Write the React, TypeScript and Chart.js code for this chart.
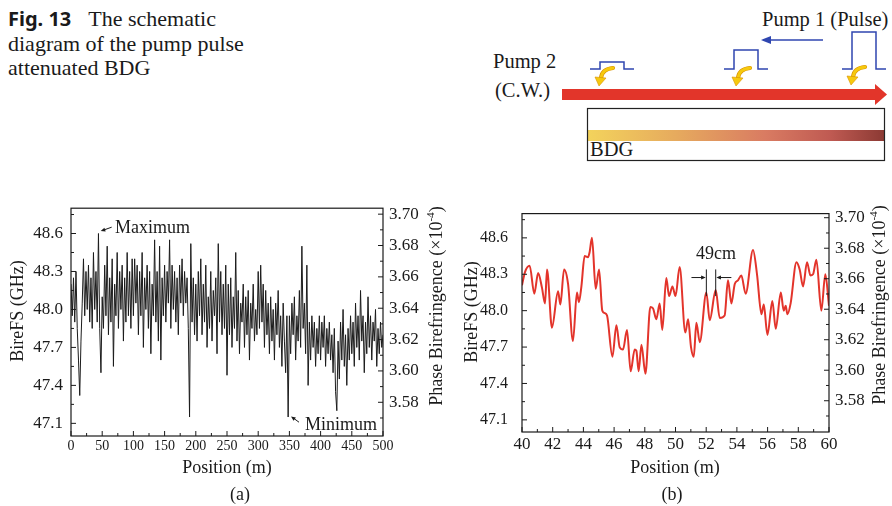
import React, { useEffect, useRef } from "react";
import { Chart, registerables } from "chart.js";

Chart.register(...registerables);

const FONT = "'Liberation Serif', 'Times New Roman', serif";
const INK = "#1a1a1a";

// ---------- (a) full fibre, BireFS sampled every 2 m ----------
const leftStep = 2;
const leftBireFS = [
  48.20, 47.95, 48.25, 47.90, 48.30, 47.85, 47.60, 47.32, 47.75, 48.05, 48.40, 47.95, 48.30, 48.00, 48.35, 47.90, 48.25, 47.85, 48.45, 48.00, 48.30, 47.90, 48.60, 47.85, 47.50,
  48.10, 47.85, 48.35, 47.95, 48.50, 47.80, 48.25, 47.90, 48.40, 47.55, 48.20, 47.95, 48.45, 47.85, 48.30, 48.00, 48.35, 47.75, 48.25, 47.90, 48.45, 47.95, 48.30, 47.85, 48.40,
  47.95, 48.40, 48.05, 48.35, 47.80, 48.30, 47.95, 48.45, 47.70, 48.25, 48.00, 48.35, 47.85, 48.30, 47.65, 48.20, 47.95, 48.55, 47.90, 48.30, 47.75, 48.50, 47.60, 48.25, 47.95,
  48.35, 47.90, 48.30, 48.05, 48.55, 47.85, 48.35, 48.00, 48.30, 47.90, 48.25, 47.80, 48.35, 48.05, 48.40, 47.95, 48.30, 48.05, 48.25, 47.85, 47.15, 48.52, 47.90, 48.25, 47.80,
  48.20, 47.75, 48.30, 47.95, 48.40, 47.80, 48.20, 47.90, 48.35, 47.70, 48.10, 47.85, 48.30, 47.75, 48.15, 47.95, 48.25, 47.65, 48.52, 47.90, 48.30, 47.80, 48.20, 47.85, 48.35,
  47.48, 48.20, 47.80, 48.25, 47.70, 48.10, 47.85, 48.45, 47.75, 48.15, 47.65, 48.05, 47.90, 48.20, 47.70, 48.10, 47.80, 48.15, 47.60, 48.05, 47.85, 48.20, 47.75, 48.00, 47.80,
  48.30, 47.85, 48.35, 47.90, 48.20, 47.70, 48.15, 47.80, 48.05, 47.65, 48.10, 47.75, 48.00, 47.60, 48.05, 47.80, 48.15, 47.70, 47.95, 47.55, 48.05, 47.75, 47.50, 47.95, 47.15,
  47.95, 47.65, 48.05, 47.80, 48.10, 47.60, 47.95, 47.75, 48.15, 47.70, 48.50, 47.85, 48.05, 47.65, 48.35, 47.40, 47.90, 47.60, 47.95, 47.70, 47.90, 47.55, 47.85, 47.65, 47.95,
  47.60, 47.90, 47.70, 47.95, 47.55, 47.85, 47.65, 47.90, 47.60, 47.80, 47.50, 47.85, 47.35, 47.20, 47.75, 47.45, 47.90, 47.60, 48.00, 47.55, 47.80, 47.40, 47.85, 47.60, 47.95,
  47.65, 47.90, 47.55, 48.05, 47.70, 47.95, 47.60, 48.15, 47.75, 47.95, 47.50, 47.90, 47.65, 48.10, 47.70, 47.95, 47.60, 47.90, 47.75, 48.00, 47.55, 47.85, 47.65, 47.90, 47.70, 47.80,
];
const leftPos = leftBireFS.map((_, i) => i * leftStep);

const leftXTicks = [0, 50, 100, 150, 200, 250, 300, 350, 400, 450, 500];
const leftXMinor = [25, 75, 125, 175, 225, 275, 325, 375, 425, 475];

// ---------- (b) zoom 40-60 m ----------
const rightPos = [
  40.0, 40.2, 40.5, 40.8, 41.05, 41.3, 41.5, 41.63, 41.95, 42.35, 42.5, 42.74, 43.0, 43.32, 43.58, 43.71, 43.87, 44.08, 44.3, 44.4,
  44.56, 44.8, 45.02, 45.23, 45.39, 45.54, 45.89, 46.15, 46.36, 46.58, 46.84, 47.08, 47.34, 47.45, 47.6, 47.78, 48.04, 48.36, 48.53, 48.75,
  48.97, 49.14, 49.4, 49.58, 49.8, 50.0, 50.27, 50.64, 50.82, 51.01, 51.19, 51.36, 51.58, 52.01, 52.23, 52.62, 52.88, 53.2, 53.42, 53.64,
  53.86, 54.07, 54.29, 54.57, 55.05, 55.31, 55.6, 55.75, 55.99, 56.31, 56.53, 56.86, 57.05, 57.18, 57.29, 57.5, 57.88, 58.09, 58.31, 58.57,
  58.79, 58.96, 59.18, 59.5, 59.76, 60.0,
];
const rightBireFS = [
  48.21, 48.32, 48.37, 48.14, 48.31, 48.19, 48.06, 48.34, 47.86, 48.16, 48.05, 48.34, 48.22, 47.75, 48.15, 48.07, 48.2, 48.45, 48.44, 48.48,
  48.60, 48.18, 48.34, 48.0, 47.98, 47.96, 47.62, 47.88, 47.7, 47.68, 47.84, 47.5, 47.68, 47.67, 47.5, 47.72, 47.48, 48.03, 48.02, 47.93,
  48.06, 47.84, 48.27, 48.12, 48.2, 48.12, 48.36, 47.82, 47.93, 47.7, 47.62, 47.9, 47.74, 48.15, 47.92, 48.17, 47.94, 47.96, 48.25, 48.06,
  48.22, 48.25, 48.29, 48.14, 48.5, 48.3, 47.97, 48.05, 47.8, 48.08, 47.85, 48.15, 48.0, 48.04, 47.97, 48.06, 48.4, 48.34, 48.2, 48.4,
  48.29, 48.3, 48.42, 48.0, 48.3, 48.04,
];
const rightXTicks = [40, 42, 44, 46, 48, 50, 52, 54, 56, 58, 60];
const rightXMinor = [41, 43, 45, 47, 49, 51, 53, 55, 57, 59];

// ---------- shared y axes ----------
const bireTicks = [47.1, 47.4, 47.7, 48.0, 48.3, 48.6];
const bireMinor = [47.25, 47.55, 47.85, 48.15, 48.45, 48.75];
const phaseTicks = [3.58, 3.6, 3.62, 3.64, 3.66, 3.68, 3.7];
const phaseMinor = [3.57, 3.59, 3.61, 3.63, 3.65, 3.67, 3.69];

// annotation anchors (data coordinates)
const maxLabel = { x: 70.5, y: 48.645 };
const maxArrow = [65.2, 48.65, 47.6, 48.619];
const minLabel = { x: 375, y: 47.085 };
const minArrow = [365.4, 47.109, 352.6, 47.155];
const spacingMarks = [52.01, 52.62];
const spacingLabel = { x: 52.64, y: 48.468 };

type Cfg = {
  xMajor: number[]; xMinor: number[];
  leftTitle: [number, number]; rightTitle: [number, number]; bottomTitle: [number, number];
  sub: [number, number, string];
  annotate: (chart: any, ctx: CanvasRenderingContext2D) => void;
};

function drawRotated(ctx: CanvasRenderingContext2D, cx: number, cy: number, parts: { t: string; sup?: boolean }[], size: number) {
  ctx.save();
  ctx.translate(cx, cy);
  ctx.rotate(-Math.PI / 2);
  ctx.textBaseline = "middle";
  ctx.textAlign = "left";
  const items = parts.map((p) => {
    const fs = p.sup ? size * 0.62 : size;
    ctx.font = `${fs}px ${FONT}`;
    return { ...p, fs, w: ctx.measureText(p.t).width };
  });
  const total = items.reduce((s, i) => s + i.w, 0);
  let x = -total / 2;
  for (const it of items) {
    ctx.font = `${it.fs}px ${FONT}`;
    ctx.fillText(it.t, x, it.sup ? -size * 0.32 : 0);
    x += it.w;
  }
  ctx.restore();
}

function arrow(ctx: CanvasRenderingContext2D, x1: number, y1: number, x2: number, y2: number, head = 5) {
  const a = Math.atan2(y2 - y1, x2 - x1);
  ctx.beginPath();
  ctx.moveTo(x1, y1);
  ctx.lineTo(x2 - Math.cos(a) * head * 0.8, y2 - Math.sin(a) * head * 0.8);
  ctx.stroke();
  ctx.beginPath();
  ctx.moveTo(x2, y2);
  ctx.lineTo(x2 - head * Math.cos(a - 0.4), y2 - head * Math.sin(a - 0.4));
  ctx.lineTo(x2 - head * Math.cos(a + 0.4), y2 - head * Math.sin(a + 0.4));
  ctx.closePath();
  ctx.fill();
}

function framePlugin(cfg: Cfg) {
  return {
    id: "frame",
    afterDraw(chart: any) {
      const { ctx, chartArea: a, scales } = chart;
      const x = scales.x, y = scales.y, y2 = scales.y2;
      ctx.save();
      ctx.strokeStyle = INK;
      ctx.fillStyle = INK;
      ctx.lineWidth = 1.2;
      ctx.strokeRect(a.left, a.top, a.right - a.left, a.bottom - a.top);
      ctx.lineWidth = 1;
      const tick = (x1: number, y1: number, x2: number, y2v: number) => {
        ctx.beginPath(); ctx.moveTo(x1, y1); ctx.lineTo(x2, y2v); ctx.stroke();
      };
      cfg.xMajor.forEach((v) => { const p = x.getPixelForValue(v); tick(p, a.bottom, p, a.bottom - 5); });
      cfg.xMinor.forEach((v) => { const p = x.getPixelForValue(v); tick(p, a.bottom, p, a.bottom - 3); });
      bireTicks.forEach((v) => { const p = y.getPixelForValue(v); tick(a.left, p, a.left + 5, p); });
      bireMinor.forEach((v) => { const p = y.getPixelForValue(v); tick(a.left, p, a.left + 3, p); });
      phaseTicks.forEach((v) => { const p = y2.getPixelForValue(v); tick(a.right, p, a.right - 5, p); });
      phaseMinor.forEach((v) => { const p = y2.getPixelForValue(v); tick(a.right, p, a.right - 3, p); });

      drawRotated(ctx, cfg.leftTitle[0], cfg.leftTitle[1], [{ t: "BireFS (GHz)" }], 18);
      drawRotated(ctx, cfg.rightTitle[0], cfg.rightTitle[1], [{ t: "Phase Birefringence (×10" }, { t: "-4", sup: true }, { t: ")" }], 18);
      ctx.font = `18px ${FONT}`;
      ctx.textAlign = "center";
      ctx.textBaseline = "middle";
      ctx.fillText("Position (m)", cfg.bottomTitle[0], cfg.bottomTitle[1]);
      ctx.fillText(cfg.sub[2], cfg.sub[0], cfg.sub[1]);
      cfg.annotate(chart, ctx);
      ctx.restore();
    },
  };
}

function scalesFor(xMin: number, xMax: number, xTicks: number[], xFont: number, chartLeft: number, chartBottomGap: number, yFont: number, yPad: number, y2Min: number, y2Max: number) {
  const tickFont = (size: number) => ({ family: FONT, size });
  return {
    x: {
      type: "linear", min: xMin, max: xMax,
      afterBuildTicks: (s: any) => { s.ticks = xTicks.map((v) => ({ value: v })); },
      afterFit: (s: any) => { s.height = chartBottomGap; },
      grid: { display: false, drawTicks: false },
      border: { display: false },
      ticks: { font: tickFont(xFont), color: INK, padding: 2, maxRotation: 0, autoSkip: false, callback: (v: any) => String(v) },
    },
    y: {
      position: "left", min: 47.0, max: 48.8,
      afterBuildTicks: (s: any) => { s.ticks = bireTicks.map((v) => ({ value: v })); },
      afterFit: (s: any) => { s.width = chartLeft; },
      grid: { display: false, drawTicks: false },
      border: { display: false },
      ticks: { font: tickFont(yFont), color: INK, padding: yPad, callback: (v: any) => Number(v).toFixed(1) },
    },
    y2: {
      position: "right", min: y2Min, max: y2Max,
      afterBuildTicks: (s: any) => { s.ticks = phaseTicks.map((v) => ({ value: v })); },
      afterFit: (s: any) => { s.width = 63; },
      grid: { display: false, drawTicks: false },
      border: { display: false },
      ticks: { font: tickFont(17), color: INK, padding: 6, callback: (v: any) => Number(v).toFixed(2) },
    },
  };
}

const baseOptions = {
  responsive: false,
  animation: false,
  devicePixelRatio: 1,
  events: [],
  layout: { padding: { top: 14, left: 0, right: 0, bottom: 0 } },
  plugins: { legend: { display: false }, tooltip: { enabled: false } },
};

function leftConfig(): any {
  return {
    type: "line",
    data: {
      datasets: [{
        data: leftPos.map((p, i) => ({ x: p, y: leftBireFS[i] })),
        borderColor: "#1c1c1c", borderWidth: 1, pointRadius: 0, tension: 0, yAxisID: "y",
      }],
    },
    options: { ...baseOptions, scales: scalesFor(0, 500, leftXTicks, 14, 71, 70, 17, 8, 3.5585, 3.7038) },
    plugins: [framePlugin({
      xMajor: leftXTicks, xMinor: leftXMinor,
      leftTitle: [18, 121], rightTitle: [437, 116], bottomTitle: [227, 278], sub: [240, 305, "(a)"],
      annotate: (chart, ctx) => {
        const x = chart.scales.x, y = chart.scales.y;
        ctx.font = `18px ${FONT}`;
        ctx.textAlign = "left";
        ctx.textBaseline = "middle";
        ctx.fillText("Maximum", x.getPixelForValue(maxLabel.x), y.getPixelForValue(maxLabel.y));
        ctx.fillText("Minimum", x.getPixelForValue(minLabel.x), y.getPixelForValue(minLabel.y));
        ctx.lineWidth = 1;
        arrow(ctx, x.getPixelForValue(maxArrow[0]), y.getPixelForValue(maxArrow[1]), x.getPixelForValue(maxArrow[2]), y.getPixelForValue(maxArrow[3]), 5);
        arrow(ctx, x.getPixelForValue(minArrow[0]), y.getPixelForValue(minArrow[1]), x.getPixelForValue(minArrow[2]), y.getPixelForValue(minArrow[3]), 5);
      },
    })],
  };
}

function rightConfig(): any {
  return {
    type: "line",
    data: {
      datasets: [{
        data: rightPos.map((p, i) => ({ x: p, y: rightBireFS[i] })),
        borderColor: "#e3342b", borderWidth: 2, pointRadius: 0, cubicInterpolationMode: "monotone", yAxisID: "y",
      }],
    },
    options: { ...baseOptions, scales: scalesFor(40, 60, rightXTicks, 17, 76, 74, 16, 14, 3.5595, 3.7027) },
    plugins: [framePlugin({
      xMajor: rightXTicks, xMinor: rightXMinor,
      leftTitle: [26, 122], rightTitle: [434, 115], bottomTitle: [229, 278], sub: [226, 305, "(b)"],
      annotate: (chart, ctx) => {
        const x = chart.scales.x, y = chart.scales.y;
        ctx.lineWidth = 1;
        spacingMarks.forEach((m) => {
          const p = x.getPixelForValue(m);
          ctx.beginPath(); ctx.moveTo(p, y.getPixelForValue(48.34)); ctx.lineTo(p, y.getPixelForValue(48.12)); ctx.stroke();
        });
        const ay = y.getPixelForValue(48.273);
        arrow(ctx, x.getPixelForValue(51.04), ay, x.getPixelForValue(51.97), ay, 5);
        arrow(ctx, x.getPixelForValue(53.64), ay, x.getPixelForValue(52.66), ay, 5);
        ctx.font = `18px ${FONT}`;
        ctx.textAlign = "center";
        ctx.textBaseline = "middle";
        ctx.fillText("49cm", x.getPixelForValue(spacingLabel.x), y.getPixelForValue(spacingLabel.y));
      },
    })],
  };
}

function ChartCanvas({ make, left }: { make: () => any; left: number }) {
  const ref = useRef<HTMLCanvasElement>(null);
  useEffect(() => {
    const chart = new Chart(ref.current as HTMLCanvasElement, make());
    return () => chart.destroy();
  }, []);
  return (
    <canvas ref={ref} width={446} height={316}
      style={{ position: "absolute", left, top: 190, width: 446, height: 316 }} />
  );
}

function YellowArrow({ hx, hy }: { hx: number; hy: number }) {
  return (
    <g>
      <path d={`M ${hx + 13} ${hy - 16} Q ${hx + 2} ${hy - 15} ${hx + 1} ${hy - 6}`} fill="none" stroke="#d99000" strokeWidth={4.2} strokeLinecap="round" />
      <path d={`M ${hx + 13} ${hy - 16} Q ${hx + 2} ${hy - 15} ${hx + 1} ${hy - 6}`} fill="none" stroke="#f6c90e" strokeWidth={3} strokeLinecap="round" />
      <polygon points={`${hx - 5},${hy - 7} ${hx + 6},${hy - 6} ${hx - 1},${hy + 2}`} fill="#f6c90e" stroke="#d99000" strokeWidth={0.6} />
    </g>
  );
}

function Schematic() {
  const blue = "#2f46b0";
  return (
    <svg width={892} height={170} style={{ position: "absolute", left: 0, top: 0 }}>
      <defs>
        <linearGradient id="bdg" x1="0" x2="1" y1="0" y2="0">
          <stop offset="0" stopColor="#f3d35c" />
          <stop offset="0.3" stopColor="#e6aa5e" />
          <stop offset="0.6" stopColor="#d97b62" />
          <stop offset="0.82" stopColor="#bf5a52" />
          <stop offset="1" stopColor="#8c3a34" />
        </linearGradient>
      </defs>
      <g fontFamily={FONT} fontSize={20.5} fill={INK}>
        <text x={762} y={26}>Pump 1 (Pulse)</text>
        <text x={493} y={68}>Pump 2</text>
        <text x={495} y={97}>(C.W.)</text>
        <text x={590} y={156}>BDG</text>
      </g>
      <line x1={823} y1={40} x2={768} y2={40} stroke={blue} strokeWidth={1.5} />
      <polygon points="761,40 771,36 771,44" fill={blue} />
      <polyline points="590,69 600,69 600,62 624,62 624,69 634,69" fill="none" stroke={blue} strokeWidth={1.5} />
      <polyline points="724,69 734,69 734,50 758,50 758,69 768,69" fill="none" stroke={blue} strokeWidth={1.5} />
      <polyline points="842,69 852,69 852,32 876,32 876,69 886,69" fill="none" stroke={blue} strokeWidth={1.5} />
      <YellowArrow hx={600} hy={84} />
      <YellowArrow hx={737} hy={84} />
      <YellowArrow hx={852} hy={83} />
      <rect x={562} y={89} width={315} height={11} fill="#e2352a" />
      <polygon points="875,84 887,94.5 875,105" fill="#e2352a" />
      <rect x={588} y={130} width={296} height={11} fill="url(#bdg)" />
      <rect x={587.5} y={108.5} width={297} height={52} fill="none" stroke="#222" strokeWidth={1.2} />
    </svg>
  );
}

export default function App() {
  return (
    <div style={{ position: "absolute", left: 0, top: 0, width: 892, height: 506, background: "#fff", overflow: "hidden" }}>
      <div style={{ position: "absolute", left: 8, top: 7, fontFamily: FONT, fontSize: 22, lineHeight: "24.5px", color: INK, whiteSpace: "nowrap" }}>
        <span style={{ fontFamily: "'Noto Sans', 'DejaVu Sans', sans-serif", fontWeight: 700, fontSize: 20, marginRight: 17 }}>Fig. 13</span>
        The schematic<br />diagram of the pump pulse<br />attenuated BDG
      </div>
      <Schematic />
      <ChartCanvas make={leftConfig} left={0} />
      <ChartCanvas make={rightConfig} left={446} />
    </div>
  );
}
